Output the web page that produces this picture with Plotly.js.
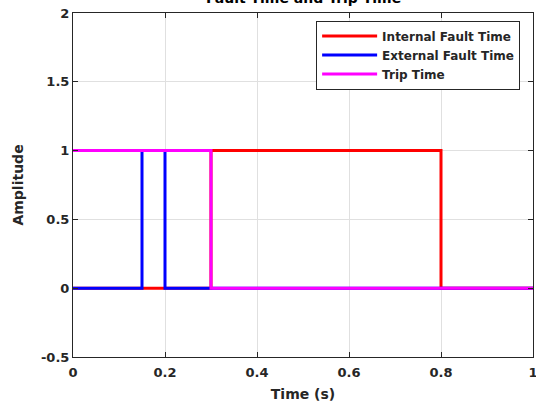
<!DOCTYPE html>
<html>
<head>
<meta charset="utf-8">
<script src="https://cdn.plot.ly/plotly-3.0.1.min.js"></script>
<style>html,body{margin:0;padding:0;background:#fff;}#chart{width:536px;height:403px;}</style>
</head>
<body>
<div id="chart"></div>
<script>
// Data
const internalTime = [0, 0.3, 0.3, 0.8, 0.8, 1];
const internalAmp  = [0, 0, 1, 1, 0, 0];
const externalTime = [0, 0.15, 0.15, 0.2, 0.2, 1];
const externalAmp  = [0, 0, 1, 1, 0, 0];
const tripTime     = [0, 0.3, 0.3, 1];
const tripAmp      = [1, 1, 0, 0];
const seriesNames  = ["Internal Fault Time", "External Fault Time", "Trip Time"];
const xTickVals = [0, 0.2, 0.4, 0.6, 0.8, 1];
const xTickText = ["0", "0.2", "0.4", "0.6", "0.8", "1"];
const yTickVals = [-0.5, 0, 0.5, 1, 1.5, 2];
const yTickText = ["-0.5", "0", "0.5", "1", "1.5", "2"];
const chartTitle = "Fault Time and Trip Time";

const fontFam = "DejaVu Sans, Liberation Sans, Arial, sans-serif";
const textCol = "#262626";

const traces = [
  {x: internalTime, y: internalAmp, name: seriesNames[0], mode: "lines", line: {color: "#ff0000", width: 3}},
  {x: externalTime, y: externalAmp, name: seriesNames[1], mode: "lines", line: {color: "#0000ff", width: 3}},
  {x: tripTime, y: tripAmp, name: seriesNames[2], mode: "lines", line: {color: "#ff00ff", width: 3}}
];

const axisCommon = {
  showline: true, linecolor: textCol, linewidth: 1, mirror: "ticks",
  ticks: "inside", ticklen: 5, tickcolor: textCol, tickwidth: 1,
  showgrid: true, gridcolor: "#e0e0e0", gridwidth: 1,
  zeroline: false, ticklabeloverflow: "allow",
  tickfont: {family: fontFam, size: 13, color: textCol, weight: "bold"}
};

const layout = {
  width: 536, height: 403,
  margin: {l: 73, r: 3, t: 13, b: 46},
  paper_bgcolor: "#ffffff", plot_bgcolor: "#ffffff",
  showlegend: true,
  xaxis: Object.assign({}, axisCommon, {
    range: [0, 1], tickmode: "array", tickvals: xTickVals, ticktext: xTickText,
    ticklabelstandoff: 3,
    title: {text: "Time (s)", font: {family: fontFam, size: 14, color: textCol, weight: "bold"}, standoff: 10}
  }),
  yaxis: Object.assign({}, axisCommon, {
    range: [-0.5, 2], tickmode: "array", tickvals: yTickVals, ticktext: yTickText,
    title: {text: "Amplitude", font: {family: fontFam, size: 14, color: textCol, weight: "bold"}, standoff: 14}
  }),
  legend: {
    x: 0.972, y: 0.978, xanchor: "right", yanchor: "top",
    bgcolor: "#ffffff", bordercolor: textCol, borderwidth: 1,
    font: {family: fontFam, size: 12, color: textCol, weight: "bold"},
    itemwidth: 55, tracegroupgap: 0
  },
  annotations: [{
    text: chartTitle, xref: "paper", yref: "paper", x: 0.5, y: 1,
    xanchor: "center", yanchor: "bottom", yshift: 5, showarrow: false,
    font: {family: fontFam, size: 14, color: "#000000", weight: "bold"}
  }]
};

Plotly.newPlot("chart", traces, layout, {displayModeBar: false, staticPlot: true});
</script>
</body>
</html>
